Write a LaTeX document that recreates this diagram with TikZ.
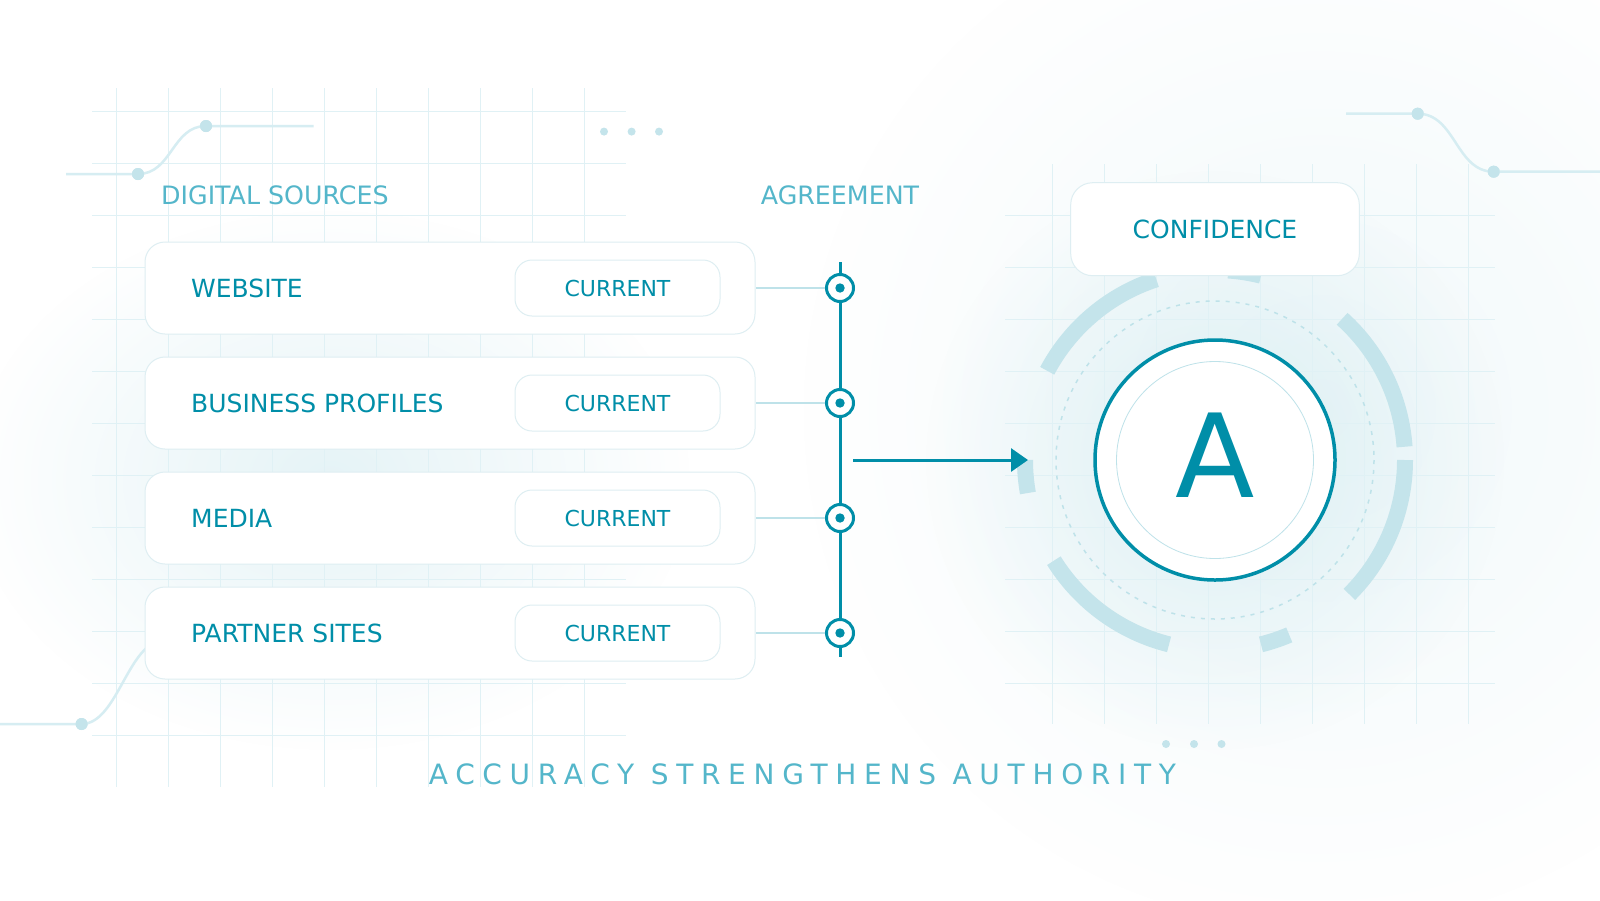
\documentclass[tikz,border=0pt]{standalone}
\usepackage{fontspec}
\setmainfont{DejaVu Sans}
\newfontfamily\spacedfont[LetterSpace=27.5]{DejaVu Sans}
\usetikzlibrary{fadings,arrows.meta}
\definecolor{teal1}{RGB}{0,142,168}
\definecolor{ttl}{RGB}{84,182,202}
\definecolor{gridc}{RGB}{224,241,245}
\definecolor{bord}{RGB}{222,238,242}
\definecolor{conn}{RGB}{190,226,233}
\definecolor{arcc}{RGB}{196,228,235}
\definecolor{trace}{RGB}{214,237,242}
\definecolor{tdot}{RGB}{196,228,235}
\definecolor{glowc}{RGB}{190,226,234}
\tikzfading[name=glowfade, inner color=transparent!0, outer color=transparent!100]
\pgfdeclarelayer{back}
\pgfdeclarelayer{bg}
\pgfsetlayers{back,bg,main}
\begin{document}
\begin{tikzpicture}[x=1pt,y=-1pt,
  card/.style={draw=bord, line width=1pt, fill=white, rounded corners=20pt, minimum width=610pt, minimum height=92pt, inner sep=0},
  pill/.style={draw=bord, line width=1pt, fill=white, rounded corners=17pt, minimum width=205pt, minimum height=56pt, inner sep=0, text=teal1, font=\fontsize{22}{26}\selectfont},
  srclbl/.style={anchor=west, inner sep=0, text=teal1, font=\fontsize{25}{28}\selectfont},
  headlbl/.style={inner sep=0, text=ttl, font=\fontsize{25.3}{28}\selectfont},
  ring/.style={circle, draw=teal1, line width=3pt, fill=white, minimum size=27pt, inner sep=0},
  gridline/.style={draw=gridc, line width=1pt},
  traceline/.style={draw=trace, line width=2.5pt},
  tracedot/.style={circle, fill=tdot, minimum size=12pt, inner sep=0},
  smalldot/.style={circle, fill=tdot, minimum size=8pt, inner sep=0},
  connline/.style={draw=conn, line width=2pt},
  ringarc/.style={draw=arcc, line width=16pt},
]
\useasboundingbox (0,0) rectangle (1600,900);
\begin{pgfonlayer}{back}
\fill[white] (0,0) rectangle (1600,900);
% glows
\fill[glowc, path fading=glowfade, fill opacity=0.22] (1320,410) circle (520);
\fill[glowc, path fading=glowfade, fill opacity=0.4] (330,480) ellipse (360 and 270);
\fill[glowc, path fading=glowfade, fill opacity=0.45] (1215,460) circle (290);
% left grid
\foreach \i in {0,...,9} \draw[gridline] (116.7+52*\i,88) -- (116.7+52*\i,787);
\foreach \j in {0,...,12} \draw[gridline] (92,111.3+52*\j) -- (626,111.3+52*\j);
% right grid
\foreach \i in {0,...,8} \draw[gridline] (1052.7+52*\i,164) -- (1052.7+52*\i,724);
\foreach \j in {2,...,11} \draw[gridline] (1005,111.3+52*\j) -- (1495,111.3+52*\j);
% traces
\coordinate (t1a) at (66,174);
\node[tracedot] (t1b) at (138,174) {};
\node[tracedot] (t1c) at (206,126) {};
\coordinate (t1d) at (313.5,126);
\draw[traceline] (t1a) -- (t1b.center) .. controls (172,174) and (172,126) .. (t1c.center) -- (t1d);
\node[tracedot] at (t1b) {};
\node[tracedot] at (t1c) {};
\coordinate (t2a) at (0,724);
\node[tracedot] (t2b) at (81.6,724) {};
\coordinate (t2c) at (165,640);
\draw[traceline] (t2a) -- (t2b.center) .. controls (118,724) and (128,640) .. (t2c);
\node[tracedot] at (t2b) {};
\coordinate (t3a) at (1346,113.7);
\node[tracedot] (t3b) at (1417.7,113.7) {};
\node[tracedot] (t3c) at (1493.7,171.7) {};
\coordinate (t3d) at (1600,171.7);
\draw[traceline] (t3a) -- (t3b.center) .. controls (1455.7,113.7) and (1455.7,171.7) .. (t3c.center) -- (t3d);
\node[tracedot] at (t3b) {};
\node[tracedot] at (t3c) {};
% small dots
\foreach \x [count=\k] in {604,631.6,659} \node[smalldot] (da\k) at (\x,131.6) {};
\foreach \x [count=\k] in {1166,1194,1221.5} \node[smalldot] (db\k) at (\x,744) {};
\end{pgfonlayer}

% headings
\node[headlbl, anchor=west] (hsrc) at (161,195) {DIGITAL SOURCES};
\node[headlbl] (hagr) at (840,195) {AGREEMENT};

% source cards
\foreach \yy/\txt [count=\k] in {288/WEBSITE,403/BUSINESS PROFILES,518/MEDIA,633/PARTNER SITES}{
  \node[card] (card\k) at (450,\yy) {};
  \node[srclbl] (src\k) at (191,\yy) {\txt};
  \node[pill] (pill\k) at (617.5,\yy) {CURRENT};
}
% agreement rail
\coordinate (vt) at (840,262);
\coordinate (vb) at (840,656.7);
\foreach \yy [count=\k] in {288,403,518,633}{
  \node[ring] (ring\k) at (840,\yy) {};
  \fill[teal1] (ring\k.center) circle (4.7);
}
\begin{pgfonlayer}{bg}
\draw[teal1, line width=3pt] (vt) -- (vb);
\foreach \k in {1,...,4} \draw[connline] (card\k.east) -- (ring\k.west);
\end{pgfonlayer}

% arrow
\coordinate (as) at (853,460);
\coordinate (ae) at (1028,460);

% confidence rings
\coordinate (cc) at (1215,460);
\foreach \a/\b in {108/152,76/86,4/48,-45/0,-76/-67,212/256,180/190}{
  \draw[ringarc] (cc) ++(-\a:190) arc[start angle=-\a, end angle=-\b, radius=190];
}
\draw[conn, line width=1.5pt, dash pattern=on 4pt off 6pt] (cc) circle (159);
\draw[teal1, line width=3pt, -{Triangle[length=17pt, width=23pt]}] (as) -- (ae);
\node[circle, draw=teal1, line width=3.5pt, fill=white, minimum size=240pt, inner sep=0] (big) at (cc) {};
\draw[conn, line width=0.8pt] (big.center) circle (98.5);
\node[inner sep=0, text=teal1, font=\fontsize{116}{120}\selectfont] (letter) at (1215,455) {A};

% confidence box
\node[draw=bord, line width=1pt, fill=white, rounded corners=22pt, minimum width=288.6pt, minimum height=93pt, inner sep=0, text=teal1, font=\fontsize{25}{28}\selectfont] (conf) at (1215,229.2) {CONFIDENCE};

% tagline
\node[anchor=west, inner sep=0, text=ttl, font=\spacedfont\fontsize{28}{32}\selectfont] (tagline) at (428.7,774) {ACCURACY STRENGTHENS AUTHORITY};
\end{tikzpicture}
\end{document}
